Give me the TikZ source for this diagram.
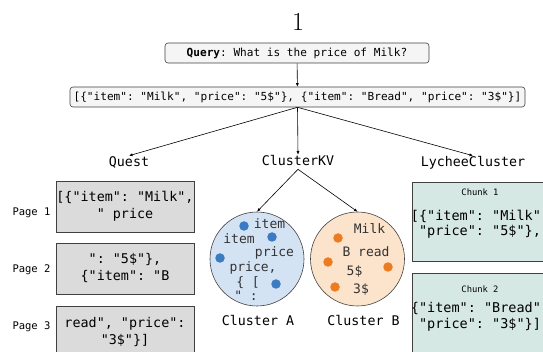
\documentclass[tikz,border=0pt]{standalone}
\usepackage{fontspec}
\setmonofont{DejaVu Sans Mono}
\usetikzlibrary{arrows.meta}
\usepackage{xcolor}
\definecolor{pagegray}{HTML}{DBDBDB}
\definecolor{qgray}{HTML}{F5F5F5}
\definecolor{chunkteal}{HTML}{D5E8E4}
\definecolor{clblue}{HTML}{D4E3F4}
\definecolor{dotblue}{HTML}{3A7BC2}
\definecolor{clorange}{HTML}{FCE3CC}
\definecolor{dotorange}{HTML}{ED7B20}
\definecolor{edgegray}{HTML}{404040}

\begin{document}
\begin{tikzpicture}[x=1pt, y=-1pt, >=stealth, font=\ttfamily, semithick]
\tikzset{qbox/.style={draw=edgegray, fill=qgray, rounded corners=3pt, inner sep=0pt, minimum height=20pt, font=\ttfamily\fontsize{11.1}{13}\selectfont}}
\tikzset{pagebox/.style={draw=edgegray, fill=pagegray, minimum width=138pt, minimum height=51pt, inner sep=0pt, align=center, font=\ttfamily\fontsize{13.4}{17}\selectfont}}
\tikzset{chunkbox/.style={draw=edgegray, fill=chunkteal, minimum width=136pt, minimum height=79pt, inner sep=0pt, anchor=north}}
\tikzset{chunktext/.style={align=center, inner sep=0pt, font=\ttfamily\fontsize{13.5}{15.5}\selectfont}}
\tikzset{chunktitle/.style={inner sep=0pt, font=\ttfamily\fontsize{8.8}{10}\selectfont}}
\tikzset{method/.style={inner sep=1pt, text height=9.5pt, text depth=2.5pt, font=\ttfamily\fontsize{13.3}{16}\selectfont}}
\tikzset{pagelabel/.style={inner sep=0pt, font=\ttfamily\fontsize{10.5}{12}\selectfont}}
\tikzset{cluster/.style={circle, draw=edgegray, minimum size=94pt, inner sep=0pt}}
\tikzset{word/.style={inner sep=0pt, text height=9.5pt, text depth=2.5pt, text=black!80, font=\ttfamily\fontsize{13}{15}\selectfont}}
\tikzset{tok/.style={circle, inner sep=0pt, minimum size=9.5pt}}
\tikzset{>={Latex[width=3pt,length=3.5pt]}}
\useasboundingbox (0,0) rectangle (543,352);
\node[font=\rmfamily\fontsize{26}{26}\selectfont, inner sep=0pt] (num) at (298,22) {1};
\node[qbox, minimum width=264pt] (q) at (297,53) {\textbf{Query}: What is the price of Milk?};
\node[qbox, minimum width=455pt] (arr) at (297.5,97) {[\{"item": "Milk", "price": "5\$"\}, \{"item": "Bread", "price": "3\$"\}]};
\node[method] (quest) at (129,163) {Quest};
\node[method] (ckv) at (298,162) {ClusterKV};
\node[method] (lychee) at (473,163) {LycheeCluster};
\path[->] (q) edge (arr);
\path[->] (arr.south) edge (quest.north) edge (ckv.north) edge (lychee.north);
% Quest pages
\node[pagebox] (p1) at (125,206.5) {[\{"item": "Milk",\\" price};
\node[pagebox] (p2) at (125,268.5) {": "5\$"\},\\\{"item": "B};
\node[pagebox, minimum height=53pt] (p3) at (125,332.5) {read", "price":\\"3\$"\}]};
\node[pagelabel] (l1) at (31.5,213) {Page 1};
\node[pagelabel] (l2) at (31.5,270) {Page 2};
\node[pagelabel] (l3) at (31.5,327) {Page 3};
% ClusterKV clusters
\node[cluster, fill=clblue] (ca) at (257,259) {};
\node[cluster, fill=clorange] (cb) at (357.5,259) {};
\path[->] (ckv.south) edge (ca.north) edge (cb.north);
\node[method] (ca-lbl) at (258,322) {Cluster A};
\node[method] (cb-lbl) at (363.5,322) {Cluster B};
\node[tok, fill=dotblue] (da1) at (244,226) {};
\node[tok, fill=dotblue] (da2) at (272,237) {};
\node[tok, fill=dotblue] (da3) at (220,258) {};
\node[tok, fill=dotblue] (da4) at (276,284) {};
\node[word] (wa1) at (269.5,225) {item};
\node[word] (wa2) at (239,240) {item};
\node[word] (wa3) at (274.5,253) {price};
\node[word] (wa4) at (253,268) {price,};
\node[word] (wa5) at (248,283) {\{ [};
\node[word] (wa6) at (246,297) {" :};
\node[tok, fill=dotorange] (db1) at (338,238) {};
\node[tok, fill=dotorange] (db2) at (328,262) {};
\node[tok, fill=dotorange] (db3) at (388,267) {};
\node[tok, fill=dotorange] (db4) at (335,287) {};
\node[word] (wb1) at (369.5,230) {Milk};
\node[word] (wb2) at (366,253) {B read};
\node[word] (wb3) at (354.5,272) {5\$};
\node[word] (wb4) at (361,290) {3\$};
% LycheeCluster chunks
\node[chunkbox] (c1) at (480,182) {};
\node[chunktitle] (c1-t) at (480,192.5) {Chunk 1};
\node[chunktext] (c1-x) at (480,224) {[\{"item": "Milk",\\"price": "5\$"\},};
\node[chunkbox, minimum height=86pt] (c2) at (480,273) {};
\node[chunktitle] (c2-t) at (480,289) {Chunk 2};
\node[chunktext] (c2-x) at (480,317) {\{"item": "Bread",\\"price": "3\$"\}]};
\end{tikzpicture}
\end{document}
